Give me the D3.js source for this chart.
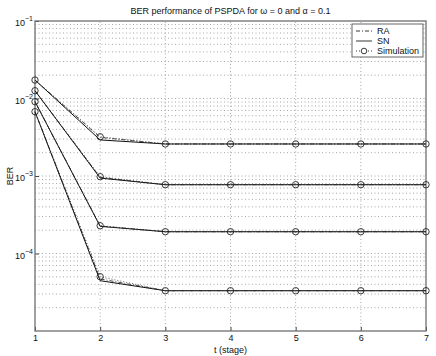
<!DOCTYPE html>
<html>
<head>
<meta charset="utf-8">
<script src="https://cdn.jsdelivr.net/npm/d3@7.9.0/dist/d3.min.js"></script>
<style>
  body { margin: 0; background: #fff; }
  svg { display: block; font-family: "Liberation Sans", Arial, sans-serif; }
</style>
</head>
<body>
<div id="chart"></div>
<script>
// stages on the x axis
const stages = [1, 2, 3, 4, 5, 6, 7];

// four operating points, each with RA, SN and simulated BER per stage
const raA = [1.73e-2, 3.15e-3, 2.59e-3, 2.59e-3, 2.59e-3, 2.59e-3, 2.59e-3];
const raB = [1.26e-2, 9.6e-4, 7.72e-4, 7.72e-4, 7.72e-4, 7.72e-4, 7.72e-4];
const raC = [9.1e-3, 2.26e-4, 1.91e-4, 1.91e-4, 1.91e-4, 1.91e-4, 1.91e-4];
const raD = [6.76e-3, 4.7e-5, 3.31e-5, 3.31e-5, 3.31e-5, 3.31e-5, 3.31e-5];

const snA = [1.73e-2, 2.92e-3, 2.59e-3, 2.59e-3, 2.59e-3, 2.59e-3, 2.59e-3];
const snB = [1.26e-2, 9.4e-4, 7.72e-4, 7.72e-4, 7.72e-4, 7.72e-4, 7.72e-4];
const snC = [9.1e-3, 2.24e-4, 1.91e-4, 1.91e-4, 1.91e-4, 1.91e-4, 1.91e-4];
const snD = [6.76e-3, 4.46e-5, 3.31e-5, 3.31e-5, 3.31e-5, 3.31e-5, 3.31e-5];

const simA = [1.73e-2, 3.21e-3, 2.59e-3, 2.59e-3, 2.59e-3, 2.59e-3, 2.59e-3];
const simB = [1.26e-2, 9.8e-4, 7.72e-4, 7.72e-4, 7.72e-4, 7.72e-4, 7.72e-4];
const simC = [9.1e-3, 2.28e-4, 1.91e-4, 1.91e-4, 1.91e-4, 1.91e-4, 1.91e-4];
const simD = [6.76e-3, 5.02e-5, 3.31e-5, 3.31e-5, 3.31e-5, 3.31e-5, 3.31e-5];

const yTickValues = [1e-1, 1e-2, 1e-3, 1e-4];
const yTickExponents = ["\u22121", "\u22122", "\u22123", "\u22124"];
const legendLabels = ["RA", "SN", "Simulation"];

const width = 436, height = 356;
const margin = { top: 21, right: 10, bottom: 25, left: 35 };

const svg = d3.select('#chart').append('svg')
    .attr('width', width)
    .attr('height', height);

const x = d3.scaleLinear()
    .domain([1, 7])
    .range([margin.left, width - margin.right]);

const y = d3.scaleLog()
    .domain([1e-5, 1e-1])
    .range([height - margin.bottom, margin.top]);

// grid
const grid = svg.append('g').attr('class', 'grid')
    .attr('stroke', '#8f8f8f')
    .attr('stroke-width', 0.8)
    .attr('stroke-dasharray', '1,2.5');

grid.selectAll('line.gy')
    .data(y.ticks().filter(v => v > 1e-5 && v < 1e-1))
    .join('line')
    .attr('x1', x(1)).attr('x2', x(7))
    .attr('y1', d => y(d)).attr('y2', d => y(d));

grid.selectAll('line.gx')
    .data(stages.slice(1, -1))
    .join('line')
    .attr('x1', d => x(d)).attr('x2', d => x(d))
    .attr('y1', y(1e-5)).attr('y2', y(1e-1));

// axes
const xAxis = d3.axisBottom(x).tickValues(stages).tickFormat(d3.format('d'))
    .tickSizeInner(-4).tickSizeOuter(0).tickPadding(4);
const gx = svg.append('g')
    .attr('transform', `translate(0,${y(1e-5)})`)
    .call(xAxis);

const yAxis = d3.axisLeft(y).tickValues(yTickValues).tickFormat(() => '')
    .tickSizeInner(-4).tickSizeOuter(0).tickPadding(4);
const gy = svg.append('g')
    .attr('transform', `translate(${x(1)},0)`)
    .call(yAxis);

gy.selectAll('.tick text').each(function(d, i) {
    const t = d3.select(this);
    t.append('tspan').text('10');
    t.append('tspan').attr('dy', -5).attr('font-size', 7).text(yTickExponents[i]);
});
gy.selectAll('.tick text').attr('dy', '0.55em').attr('x', -2);

[gx, gy].forEach(g => {
    g.select('.domain').remove();
    g.selectAll('.tick line').attr('stroke', '#444');
    g.selectAll('.tick text')
        .attr('fill', '#111')
        .attr('font-size', 9)
        .attr('font-family', '"Liberation Sans", Arial, sans-serif');
});

// plot box
svg.append('rect')
    .attr('x', x(1)).attr('y', y(1e-1))
    .attr('width', x(7) - x(1)).attr('height', y(1e-5) - y(1e-1))
    .attr('fill', 'none')
    .attr('stroke', '#6f6f6f')
    .attr('stroke-width', 1.3);

// curves
const line = d3.line()
    .x((d, i) => x(stages[i]))
    .y(d => y(d));

const curves = svg.append('g');
[snA, snB, snC, snD].forEach(s => {
    curves.append('path').datum(s)
        .attr('d', line)
        .attr('fill', 'none')
        .attr('stroke', '#111')
        .attr('stroke-width', 1);
});
[raA, raB, raC, raD].forEach(s => {
    curves.append('path').datum(s)
        .attr('d', line)
        .attr('fill', 'none')
        .attr('stroke', '#222')
        .attr('stroke-width', 0.8)
        .attr('stroke-dasharray', '4,2,1,2');
});
[simA, simB, simC, simD].forEach(s => {
    curves.append('path').datum(s)
        .attr('d', line)
        .attr('fill', 'none')
        .attr('stroke', '#333')
        .attr('stroke-width', 0.8)
        .attr('stroke-dasharray', '1,2');
    curves.selectAll(null)
        .data(s)
        .join('circle')
        .attr('cx', (d, i) => x(stages[i]))
        .attr('cy', d => y(d))
        .attr('r', 3.2)
        .attr('fill', 'none')
        .attr('stroke', '#222')
        .attr('stroke-width', 0.9);
});

// title and axis labels
svg.append('text')
    .attr('x', (x(1) + x(7)) / 2).attr('y', 14)
    .attr('text-anchor', 'middle')
    .attr('font-size', 9)
    .attr('fill', '#111')
    .text('BER performance of PSPDA for \u03c9 = 0 and \u03b1 = 0.1');

svg.append('text')
    .attr('x', (x(1) + x(7)) / 2).attr('y', 353)
    .attr('text-anchor', 'middle')
    .attr('font-size', 9)
    .attr('fill', '#111')
    .text('t (stage)');

svg.append('text')
    .attr('transform', `translate(13,${(y(1e-1) + y(1e-5)) / 2}) rotate(-90)`)
    .attr('text-anchor', 'middle')
    .attr('font-size', 9)
    .attr('fill', '#111')
    .text('BER');

// legend
const lg = svg.append('g').attr('transform', 'translate(352,24)');
lg.append('rect')
    .attr('width', 71).attr('height', 33)
    .attr('fill', '#fff')
    .attr('stroke', '#555')
    .attr('stroke-width', 0.9);

const rows = [
    { dash: '4,2,1,2', marker: false },
    { dash: null, marker: false },
    { dash: '1,2', marker: true }
];
rows.forEach((r, i) => {
    const yy = 7 + i * 10;
    lg.append('line')
        .attr('x1', 4).attr('x2', 20)
        .attr('y1', yy).attr('y2', yy)
        .attr('stroke', '#222')
        .attr('stroke-width', 0.9)
        .attr('stroke-dasharray', r.dash);
    if (r.marker) {
        lg.append('circle')
            .attr('cx', 12).attr('cy', yy).attr('r', 2.8)
            .attr('fill', '#fff').attr('stroke', '#222').attr('stroke-width', 0.9);
    }
    lg.append('text')
        .attr('x', 25).attr('y', yy + 3.2)
        .attr('font-size', 9)
        .attr('fill', '#111')
        .text(legendLabels[i]);
});
</script>
</body>
</html>
